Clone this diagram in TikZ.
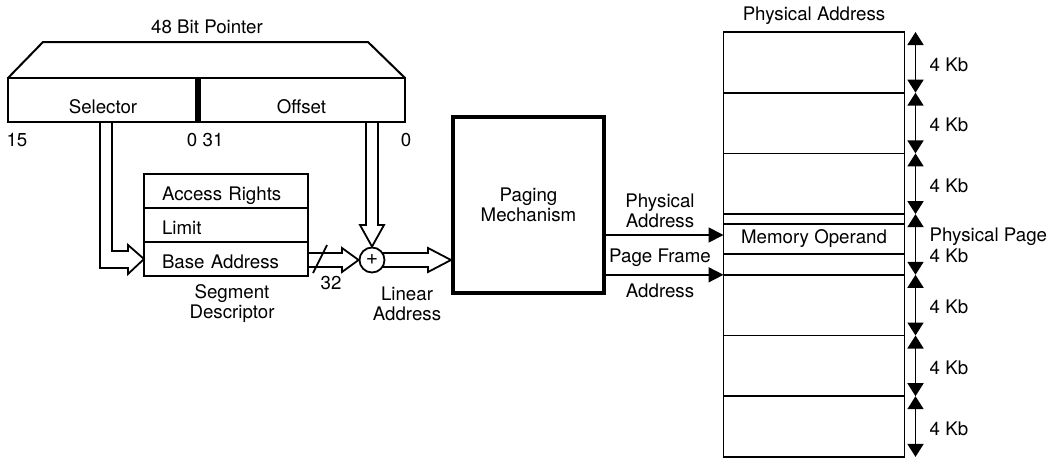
\documentclass[tikz,border=0pt]{standalone}
\usepackage{fontspec}
\setmainfont{TeX Gyre Heros}
\usepackage{tikz}
\usetikzlibrary{arrows.meta,positioning,calc}

\tikzset{
	field/.style={draw, line width=1.8pt, outer sep=0pt, text width=128pt, inner xsep=18pt, inner ysep=0pt, minimum height=34pt, text height=18pt, text depth=0pt, align=left},
	page/.style={draw, line width=1.8pt, outer sep=0pt, minimum width=181pt, minimum height=60.7pt, inner sep=0pt},
	hollow/.style={line width=1.8pt, line join=miter},
	tip/.style={-{Triangle[width=15pt,length=15pt]}, line width=1.8pt},
	dim/.style={{Triangle[width=16pt,length=13pt]}-{Triangle[width=16pt,length=13pt]}, line width=1.8pt},
}

\begin{document}
\begin{tikzpicture}[x=1pt, y=-1pt, >=Stealth, font=\fontsize{18.7}{20}\selectfont, inner sep=2pt]
		\useasboundingbox (0,0) rectangle (1064,458);
		% 48 bit pointer
		\node (ptrtitle) at (207,27) {48 Bit Pointer};
		\node[draw, line width=2pt, outer sep=0pt, minimum width=190pt, minimum height=44pt, text height=26pt, text depth=0pt] (sel) at (103,100) {Selector};
		\node[draw, line width=2pt, outer sep=0pt, minimum width=207pt, minimum height=44pt, text height=26pt, text depth=0pt] (off) at (301.5,100) {Offset};
		\draw[line width=2pt, line join=miter] (sel.north west) -- (43,42) -- (368,42) -- (off.north east);
		\draw[line width=6pt] (sel.north east) -- (sel.south east);
		\node (b15) at (17,140) {15};
		\node (b0a) at (192,140) {0};
		\node (b31) at (213,140) {31};
		\node (b0b) at (406,140) {0};
		% segment descriptor
		\node[field] (access) at (226,191) {Access Rights};
		\node[field, below=0pt of access] (limit) {Limit};
		\node[field, below=0pt of limit] (base) {Base Address};
		\node[align=center] (segdesc) at (232,304) {Segment\\Descriptor};
		% adder and paging unit
		\node[circle, draw, line width=1.8pt, minimum size=25pt, inner sep=0pt, font=\fontsize{21}{21}\selectfont] (add) at (372,260) {+};
		\node[align=center] (linear) at (407,304) {Linear\\Address};
		\node[draw, line width=4pt, minimum width=151pt, minimum height=176pt, align=center] (paging) at (528.5,205) {Paging\\Mechanism};
		% hollow arrows
		\draw[hollow] (100,123) -- (100,268) -- (128,268) -- (128,274) -- (base.west) -- (128,245) -- (128,251) -- (112,251) -- (112,123);
		\draw[hollow] (366,123) -- (366,225) -- (360,225) -- (add.north) -- (384,225) -- (378,225) -- (378,123);
		\draw[hollow] (base.east |- 0,253) -- (342,253) -- (342,248) -- (add.west) -- (342,272) -- (342,267) -- (base.east |- 0,267);
		\draw[hollow] (382,253) -- (428,253) -- (428,248) -- (paging.west |- add) -- (428,272) -- (428,267) -- (382,267);
		\draw[line width=1.8pt] (313,273) -- (327,245);
		\node (w32) at (331,283) {32};
		% physical memory
		\foreach \i in {0,...,6} {
			\node[page] (pg\i) at (814,{62.35+60.7*\i}) {};
			\draw[dim] ([xshift=11pt]pg\i.north east) -- ([xshift=11pt]pg\i.south east);
		}
		\node[page, minimum height=30pt] (memop) at (814,239) {Memory Operand};
		\node (memtitle) at (814,16) {Physical Address};
		\foreach \i in {0,1,2,4,5,6} {
			\node[anchor=west] (kb\i) at ([xshift=23pt, yshift=-2pt]pg\i.east) {4 Kb};
		}
		\node[anchor=west, align=left] (kb3) at ([xshift=23pt, yshift=-1pt]pg3.east) {Physical Page\\[1.5pt]4 Kb};
		% address arrows
		\coordinate (pa) at ([yshift=4pt]memop.west);
		\draw[tip] (paging.east |- pa) -- (pa);
		\draw[tip] (paging.east |- pg4.north west) -- (pg4.north west);
		\node[align=center] (physaddr) at (660,211) {Physical\\Address};
		\node (pgframe) at (660,258) {Page Frame};
		\node (frameaddr) at (660,291) {Address};
	\end{tikzpicture}
\end{document}
